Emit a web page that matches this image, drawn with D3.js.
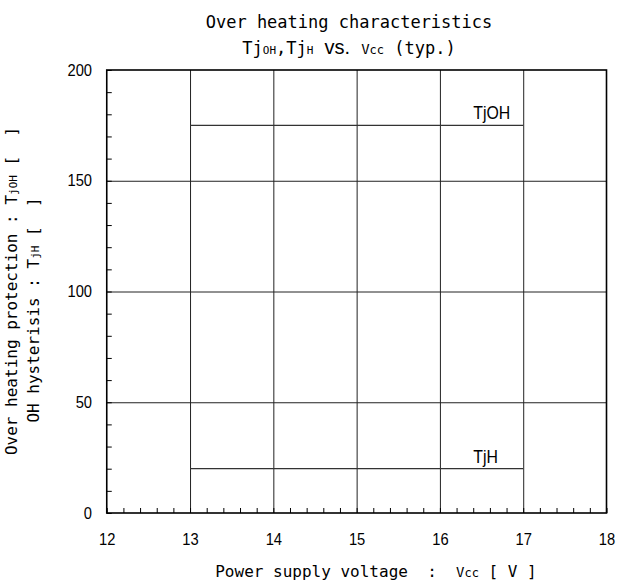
<!DOCTYPE html>
<html><head><meta charset="utf-8">
<script src="https://cdn.jsdelivr.net/npm/d3@7"></script>
<style>body{margin:0;background:#fff} text{white-space:pre}</style>
</head><body>
<svg id="c" width="629" height="583"></svg>
<script>
// ---- data ----
const xTickValues = [12, 13, 14, 15, 16, 17, 18];
const yTickValues = [0, 50, 100, 150, 200];
const xGridValues = [13, 14, 15, 16, 17];
const yGridValues = [50, 100, 150];
const vcc = [13, 17];
const tjOH = [175, 175];
const tjH = [20, 20];
const seriesLabels = ["TjOH", "TjH"];

// ---- layout ----
const L = 106.75, R = 606.5, T = 70, B = 513;
const svg = d3.select("#c");
const x = d3.scaleLinear().domain([12, 18]).range([L, R]);
const y = d3.scaleLinear().domain([0, 200]).range([B, T]);
const MONO = "'DejaVu Sans Mono', monospace";
const SANS = "'Liberation Sans', Arial, sans-serif";

// gridlines
svg.append("g").attr("transform", `translate(0,${B})`)
  .call(d3.axisBottom(x).tickValues(xGridValues).tickSize(-(B - T)).tickFormat(""))
  .call(g => g.select(".domain").remove())
  .selectAll("line").attr("stroke", "#222").attr("stroke-width", 1);
svg.append("g").attr("transform", `translate(${L},0)`)
  .call(d3.axisLeft(y).tickValues(yGridValues).tickSize(-(R - L)).tickFormat(""))
  .call(g => g.select(".domain").remove())
  .selectAll("line").attr("stroke", "#222").attr("stroke-width", 1);

// minor ticks (inward)
svg.append("g").attr("transform", `translate(0,${B})`)
  .call(d3.axisBottom(x).ticks(30).tickSize(-5).tickFormat(""))
  .call(g => g.select(".domain").remove())
  .selectAll("line").attr("stroke", "#000");
svg.append("g").attr("transform", `translate(${L},0)`)
  .call(d3.axisLeft(y).ticks(20).tickSize(-5).tickFormat(""))
  .call(g => g.select(".domain").remove())
  .selectAll("line").attr("stroke", "#000");

// series lines
const line = d3.line().x(d => x(d[0])).y(d => y(d[1]));
[tjOH, tjH].forEach(s => {
  svg.append("path").datum(vcc.map((v, i) => [v, s[i]]))
    .attr("d", line).attr("fill", "none").attr("stroke", "#333").attr("stroke-width", 1.3);
});
// series labels
[tjOH, tjH].forEach((s, i) => {
  svg.append("text")
    .attr("transform", `translate(${x(16.4)},${y(s[1]) - 6}) scale(0.88,1)`)
    .attr("font-family", SANS).attr("font-size", 18).attr("fill", "#000")
    .text(seriesLabels[i]);
});

// frame
svg.append("rect").attr("x", L).attr("y", T).attr("width", R - L).attr("height", B - T)
  .attr("fill", "none").attr("stroke", "#000").attr("stroke-width", 1.6);

// tick labels
const xa = svg.append("g").attr("transform", `translate(0,${B})`)
  .call(d3.axisBottom(x).tickValues(xTickValues).tickSize(0).tickPadding(21).tickFormat(d3.format("d")));
xa.select(".domain").remove();
xa.selectAll("text").attr("font-family", SANS).attr("font-size", 16).attr("fill", "#000")
  .attr("transform", "scale(0.92,1)");
const ya = svg.append("g").attr("transform", `translate(${L},0)`)
  .call(d3.axisLeft(y).tickValues(yTickValues).tickSize(0).tickPadding(16).tickFormat(d3.format("d")));
ya.select(".domain").remove();
ya.selectAll("text").attr("font-family", SANS).attr("font-size", 16).attr("fill", "#000")
  .attr("transform", "scale(0.92,1)");

// title
function rich(sel, parts) {
  parts.forEach(p => {
    sel.append("tspan").attr("font-family", p.f || MONO).attr("font-size", p.s).text(p.t);
  });
}
svg.append("text").attr("x", 349).attr("y", 28).attr("text-anchor", "middle")
  .attr("font-family", MONO).attr("font-size", 17).attr("fill", "#000")
  .text("Over heating characteristics");
const t2 = svg.append("text").attr("x", 349).attr("y", 54).attr("text-anchor", "middle")
  .attr("fill", "#000");
rich(t2, [
  {t: "Tj", s: 17}, {t: "OH", s: 11}, {t: ",Tj", s: 17}, {t: "H", s: 11},
  {t: "  vs.  ", s: 20, f: SANS}, {t: "V", s: 14}, {t: "cc", s: 12}, {t: " (typ.)", s: 17}
]);

// x axis title
const xt = svg.append("text").attr("x", 376).attr("y", 577).attr("text-anchor", "middle")
  .attr("fill", "#000");
rich(xt, [{t: "Power supply voltage  :  ", s: 16}, {t: "V", s: 14}, {t: "cc", s: 12}, {t: " [ V ]", s: 16}]);

// y axis titles
const y1 = svg.append("text").attr("transform", "translate(17,291) rotate(-90)")
  .attr("text-anchor", "middle").attr("fill", "#000");
rich(y1, [{t: "Over heating protection : T", s: 16}, {t: "jOH", s: 11}, {t: " [  ]", s: 16}]);
const y2 = svg.append("text").attr("transform", "translate(39,310) rotate(-90)")
  .attr("text-anchor", "middle").attr("fill", "#000");
rich(y2, [{t: "OH hysterisis : T", s: 16}, {t: "jH", s: 11}, {t: " [  ]", s: 16}]);
</script>
</body></html>
